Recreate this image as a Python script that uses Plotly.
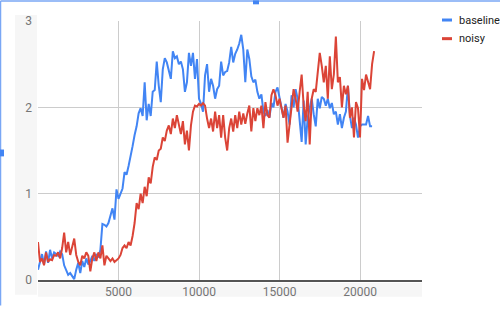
import plotly.graph_objects as go

step_values = list(range(0, 21000, 125))

baseline = [
    0.12, 0.22, 0.30, 0.18, 0.33, 0.20, 0.35, 0.25, 0.32, 0.30, 0.28, 0.33, 0.30, 0.17, 0.12, 0.06,
    0.08, 0.05, 0.01, 0.12, 0.20, 0.08, 0.22, 0.15, 0.25, 0.18, 0.22, 0.28, 0.22, 0.30, 0.26, 0.35,
    0.65, 0.64, 0.62, 0.66, 0.75, 0.83, 0.70, 1.05, 0.94, 1.00, 1.06, 1.25, 1.22, 1.32, 1.42, 1.55,
    1.68, 1.78, 1.93, 1.99, 1.90, 2.29, 1.85, 2.04, 1.90, 2.18, 2.20, 2.53, 2.25, 2.06, 2.44, 2.57,
    2.52, 2.44, 2.33, 2.65, 2.57, 2.59, 2.50, 2.53, 2.44, 2.18, 2.29, 2.63, 2.48, 2.63, 2.33, 2.56,
    2.10, 2.04, 1.95, 2.37, 2.50, 2.18, 2.33, 2.25, 2.10, 2.21, 2.25, 2.53, 2.37, 2.41, 2.42, 2.52,
    2.70, 2.52, 2.62, 2.67, 2.74, 2.84, 2.67, 2.29, 2.67, 2.56, 2.36, 2.29, 2.32, 2.18, 2.10, 2.15,
    1.95, 1.90, 1.97, 1.88, 2.05, 2.00, 2.18, 2.23, 2.10, 2.00, 1.88, 2.04, 1.95, 1.80, 2.14, 2.00,
    2.21, 2.10, 1.85, 1.60, 2.08, 1.57, 1.88, 1.99, 2.10, 1.92, 1.78, 2.10, 1.99, 2.12, 2.10, 2.02,
    2.10, 1.99, 2.05, 1.92, 1.95, 1.80, 1.92, 1.76, 1.88, 1.95, 2.25, 1.90, 1.76, 1.88, 1.80, 1.65,
    1.78, 1.80, 1.80, 1.80, 1.90, 1.78, 1.78,
]

noisy = [
    0.44, 0.21, 0.25, 0.17, 0.32, 0.21, 0.24, 0.23, 0.29, 0.28, 0.32, 0.25, 0.37, 0.55, 0.32, 0.44,
    0.29, 0.38, 0.48, 0.29, 0.21, 0.17, 0.28, 0.25, 0.32, 0.28, 0.10, 0.25, 0.32, 0.22, 0.32, 0.25,
    0.40, 0.17, 0.28, 0.25, 0.22, 0.25, 0.21, 0.23, 0.25, 0.29, 0.37, 0.40, 0.37, 0.44, 0.40, 0.51,
    0.66, 0.89, 0.82, 1.00, 0.89, 1.08, 0.97, 1.19, 1.12, 1.31, 1.42, 1.39, 1.50, 1.52, 1.65, 1.61,
    1.73, 1.79, 1.69, 1.87, 1.76, 1.91, 1.79, 1.69, 1.84, 1.57, 1.73, 1.50, 1.79, 1.95, 2.02, 2.01,
    2.04, 2.02, 2.05, 2.02, 1.87, 1.76, 1.87, 1.72, 1.95, 1.76, 1.91, 1.65, 1.91, 1.65, 1.50, 1.76,
    1.87, 1.72, 1.91, 1.76, 1.95, 1.80, 1.93, 1.81, 1.93, 2.02, 1.72, 1.99, 1.84, 1.99, 1.91, 2.02,
    1.76, 2.06, 1.91, 1.88, 2.14, 2.21, 2.14, 2.02, 2.10, 1.99, 1.88, 2.02, 1.59, 1.80, 1.99, 2.21,
    2.10, 1.95, 2.18, 2.38, 2.02, 1.84, 2.18, 1.57, 2.10, 2.21, 2.18, 2.38, 2.63, 2.48, 2.29, 2.48,
    2.10, 2.59, 2.21, 2.38, 2.82, 2.29, 2.35, 2.00, 2.25, 2.15, 2.25, 1.88, 2.00, 1.65, 2.06, 1.99,
    1.65, 2.33, 2.20, 2.38, 2.30, 2.21, 2.50, 2.65,
]

x_ticks = [5000, 10000, 15000, 20000]
x_tick_text = ["5000", "10000", "15000", "20000"]
y_ticks = [0, 1, 2, 3]

BLUE = "#4285f4"
RED = "#db4437"

fig = go.Figure()
fig.add_trace(go.Scatter(x=step_values[:len(baseline)], y=baseline, mode="lines",
                         name="baseline", line=dict(color=BLUE, width=2)))
fig.add_trace(go.Scatter(x=step_values[:len(noisy)], y=noisy, mode="lines",
                         name="noisy", line=dict(color=RED, width=2)))

L, R, T, B = 38, 78, 21, 26
W, H = 500, 311
pw, ph = W - L - R, H - T - B


def px_to_paper(px, py):
    return (px - L) / pw, (H - B - py) / ph


shapes = []
annotations = []

# faint textured (hatched) label areas, approximated with a light fill
for (ax0, ay0, ax1, ay1) in [(15, 15, 37, 300), (38, 288, 422, 302)]:
    x0, y1 = px_to_paper(ax0, ay0)
    x1, y0 = px_to_paper(ax1, ay1)
    shapes.append(dict(type="rect", xref="paper", yref="paper", x0=x0, x1=x1, y0=y0, y1=y1,
                       fillcolor="#f6f6f6", line=dict(width=0), layer="below"))

# manual legend
for i, (name, col) in enumerate([("baseline", BLUE), ("noisy", RED)]):
    yy = 20 + i * 19
    x0, y0 = px_to_paper(442, yy)
    x1, _ = px_to_paper(452, yy)
    shapes.append(dict(type="line", xref="paper", yref="paper", x0=x0, x1=x1, y0=y0, y1=y0,
                       line=dict(color=col, width=3)))
    tx, _ = px_to_paper(457, yy)
    annotations.append(dict(xref="paper", yref="paper", x=tx, y=y0, text=name, showarrow=False,
                            xanchor="left", yanchor="middle",
                            font=dict(family="Roboto, Arial", size=11, color="#222222")))

# selection frame (editor overlay)
fx0, fy0 = px_to_paper(0.5, 0.5)
fx1, _ = px_to_paper(500, 0.5)
_, fy1 = px_to_paper(0.5, 311)
shapes.append(dict(type="line", xref="paper", yref="paper", x0=fx0, x1=fx1, y0=fy0, y1=fy0,
                   line=dict(color="#7aa7f5", width=1.5)))
shapes.append(dict(type="line", xref="paper", yref="paper", x0=fx0, x1=fx0, y0=fy0, y1=fy1,
                   line=dict(color="#7aa7f5", width=1.5)))
hx0, hy0 = px_to_paper(253, 0)
hx1, hy1 = px_to_paper(259, 4)
shapes.append(dict(type="rect", xref="paper", yref="paper", x0=hx0, x1=hx1, y0=hy0, y1=hy1,
                   fillcolor="#4285f4", line=dict(width=0)))
vx0, vy0 = px_to_paper(0, 152)
vx1, vy1 = px_to_paper(4, 159)
shapes.append(dict(type="rect", xref="paper", yref="paper", x0=vx0, x1=vx1, y0=vy0, y1=vy1,
                   fillcolor="#4285f4", line=dict(width=0)))

fig.update_layout(
    width=W, height=H,
    margin=dict(l=L, r=R, t=T, b=B, pad=0),
    paper_bgcolor="white", plot_bgcolor="white",
    showlegend=False,
    shapes=shapes, annotations=annotations,
    font=dict(family="Roboto, Arial", size=12, color="#757575"),
    xaxis=dict(range=[0, 23850], tickvals=x_ticks, ticktext=x_tick_text, showgrid=True,
               gridcolor="#cccccc", gridwidth=1, zeroline=False, showline=True,
               linecolor="#555555", linewidth=1.5, ticks="",
               tickfont=dict(size=12, color="#757575"), fixedrange=True),
    yaxis=dict(range=[0, 3], tickvals=y_ticks, showgrid=True, gridcolor="#cccccc",
               gridwidth=1, zeroline=False, showline=False, ticks="",
               ticklabelstandoff=5,
               tickfont=dict(size=12, color="#757575"), fixedrange=True),
)

fig.write_html("out.html")
